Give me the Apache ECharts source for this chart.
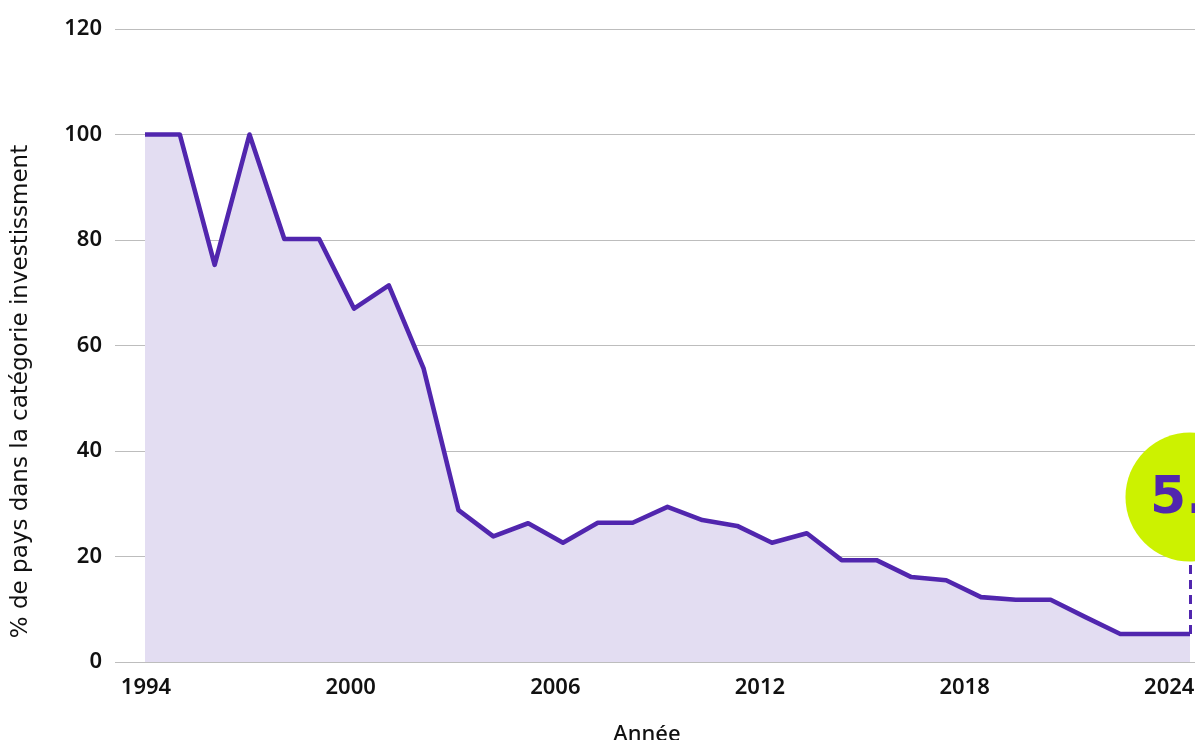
<!DOCTYPE html>
<html>
<head>
<meta charset="utf-8">
<script src="https://cdn.jsdelivr.net/npm/echarts@6/dist/echarts.min.js"></script>
<style>html,body{margin:0;padding:0;background:#fff;}#c{width:1195px;height:740px;}</style>
</head>
<body>
<div id="c"></div>
<script>
const years = [1994,1995,1996,1997,1998,1999,2000,2001,2002,2003,2004,2005,2006,2007,2008,2009,2010,2011,2012,2013,2014,2015,2016,2017,2018,2019,2020,2021,2022,2023,2024];
const shares = [100,100,75.3,100,80.2,80.2,67.0,71.4,55.6,28.8,23.8,26.3,22.6,26.4,26.4,29.4,26.9,25.8,22.6,24.4,19.3,19.3,16.1,15.5,12.3,11.8,11.8,8.5,5.3,5.3,5.3];
const xTickLabels = [1994,2000,2006,2012,2018,2024];
const yTicks = [0,20,40,60,80,100,120];
const latestLabel = '5.3%';
const latestYear = 2024, latestValue = 5.3;

const purple = '#5126AE';
const font = 'Noto Sans';
const chart = echarts.init(document.getElementById('c'), null, {renderer:'canvas'});
chart.setOption({
  animation:false,
  backgroundColor:'#ffffff',
  grid:{left:115, right:0, top:29, bottom:78, containLabel:false, outerBoundsMode:'none'},
  xAxis:[{
    type:'value', min:1993.139, max:2024.144,
    axisLine:{show:false}, axisTick:{show:false}, axisLabel:{show:false}, splitLine:{show:false}
  },{
    type:'value', min:1993.091, max:2024.755, position:'bottom',
    axisLine:{show:false}, axisTick:{show:false}, splitLine:{show:false},
    axisLabel:{customValues:xTickLabels, color:'#111', fontFamily:font, fontWeight:600, fontSize:22, margin:15,
      formatter:v=>String(Math.round(v))},
    name:'Année', nameLocation:'middle', nameGap:62,
    nameTextStyle:{color:'#111', fontFamily:font, fontSize:22, fontWeight:500, padding:[0,16,0,0]}
  }],
  yAxis:{
    type:'value', min:yTicks[0], max:yTicks[yTicks.length-1], interval:20,
    axisLine:{show:false}, axisTick:{show:false},
    axisLabel:{color:'#111', fontFamily:font, fontWeight:600, fontSize:22, margin:13},
    splitLine:{lineStyle:{color:'#BDBDBD', width:1.2}},
    name:'% de pays dans la catégorie investissment', nameLocation:'middle', nameGap:82,
    nameTextStyle:{color:'#111', fontFamily:'DejaVu Sans', fontSize:23, padding:[0,92,0,0]}
  },
  series:[{
    type:'line', xAxisIndex:0,
    data:years.map((y,i)=>[y, shares[i]]),
    symbol:'none',
    lineStyle:{color:purple, width:4.6, join:'round'},
    areaStyle:{color:'#E3DDF2', opacity:1},
    z:3,
    markLine:{
      silent:true, symbol:['none','none'],
      lineStyle:{color:purple, type:[9,6], width:3},
      label:{show:false},
      data:[[{coord:[latestYear, latestValue]},{coord:[latestYear, 19]}]]
    },
    markPoint:{
      silent:true,
      data:[{coord:[latestYear, latestValue], symbol:'circle', symbolSize:129, symbolOffset:[0,-137],
        itemStyle:{color:'#CCF200'},
        label:{show:true, position:'inside', align:'left', offset:[-40,2], formatter:latestLabel,
          color:purple, fontFamily:'DejaVu Sans', fontWeight:'bold', fontSize:52}}]
    }
  }]
});
</script>
</body>
</html>
